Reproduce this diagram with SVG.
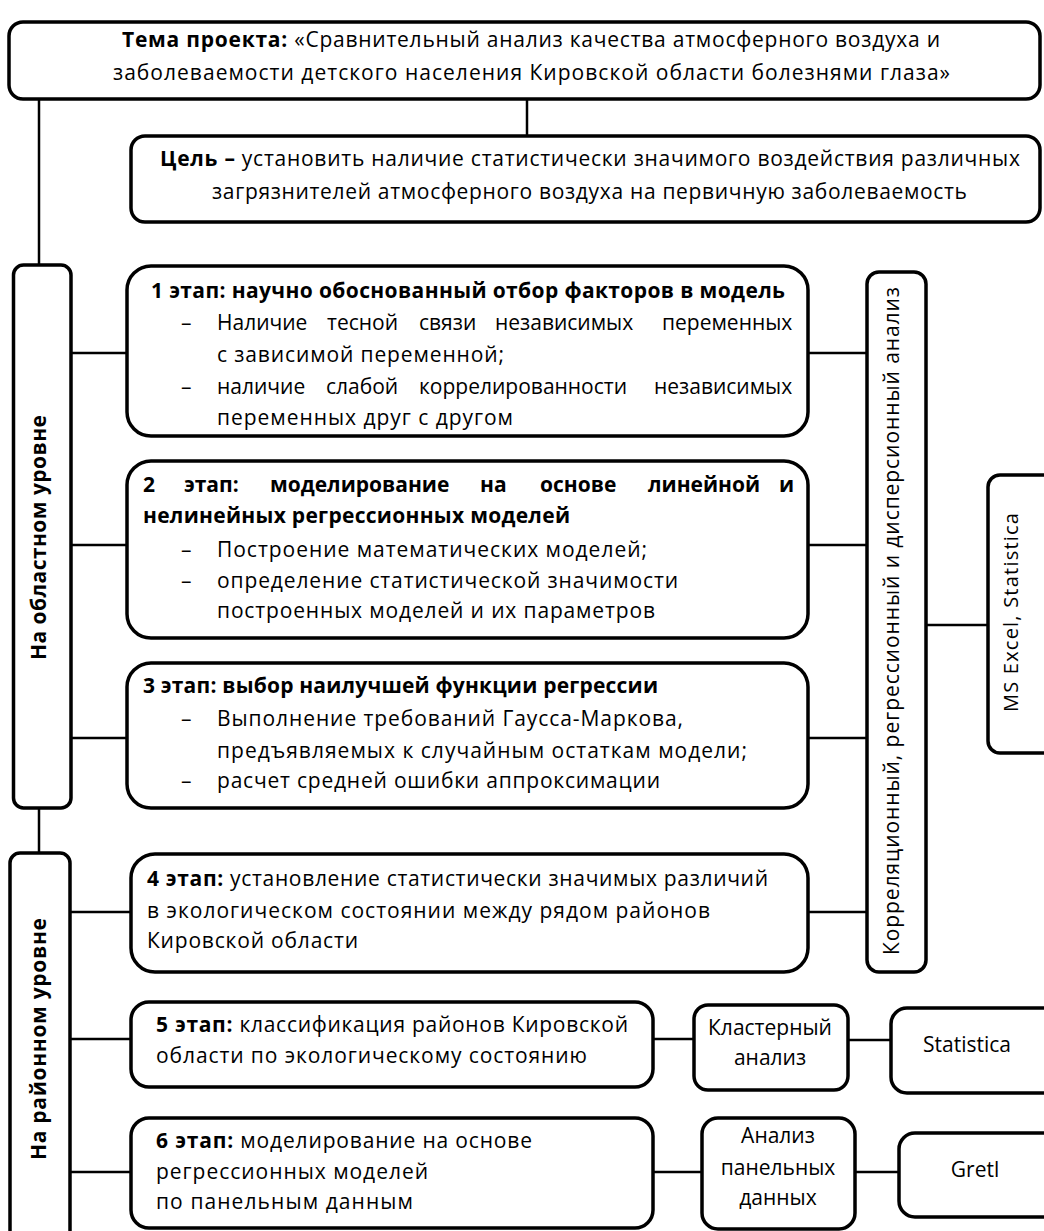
<svg xmlns="http://www.w3.org/2000/svg" width="1044" height="1231" viewBox="0 0 1044 1231">
<style>
.box{fill:#fff;stroke:#000;stroke-width:3.5}
.ln{stroke:#000;stroke-width:2.5;fill:none}
text{font-family:"Open Sans","DejaVu Sans",sans-serif;fill:#000}
.h{font-size:21px}
.t{font-size:21px}
.s{font-size:21px;text-anchor:middle}
.b{font-weight:bold}
</style>
<rect width="1044" height="1231" fill="#fff"/>
<g id="connectors">
<line class="ln" x1="527" y1="100" x2="527" y2="136"/>
<line class="ln" x1="39" y1="100" x2="39" y2="265"/>
<line class="ln" x1="71" y1="353" x2="127" y2="353"/>
<line class="ln" x1="71" y1="545" x2="127" y2="545"/>
<line class="ln" x1="71" y1="738" x2="127" y2="738"/>
<line class="ln" x1="39" y1="808" x2="39" y2="853"/>
<line class="ln" x1="70" y1="912" x2="131" y2="912"/>
<line class="ln" x1="70" y1="1039" x2="131" y2="1039"/>
<line class="ln" x1="70" y1="1172" x2="131" y2="1172"/>
<line class="ln" x1="808" y1="353" x2="867" y2="353"/>
<line class="ln" x1="808" y1="545" x2="867" y2="545"/>
<line class="ln" x1="808" y1="738" x2="867" y2="738"/>
<line class="ln" x1="808" y1="912" x2="867" y2="912"/>
<line class="ln" x1="926" y1="625" x2="988" y2="625"/>
<line class="ln" x1="653" y1="1039" x2="694" y2="1039"/>
<line class="ln" x1="848" y1="1040" x2="891" y2="1040"/>
<line class="ln" x1="653" y1="1172" x2="702" y2="1172"/>
<line class="ln" x1="855" y1="1172" x2="899" y2="1172"/>
</g>
<g id="topic">
<rect class="box" x="9" y="22" width="1031" height="77" rx="14"/>
<text class="h" x="122" y="47" textLength="818"><tspan class="b">Тема проекта:</tspan> «Сравнительный анализ качества атмосферного воздуха и</text>
<text class="h" x="113" y="80" textLength="837">заболеваемости детского населения Кировской области болезнями глаза»</text>
</g>
<g id="goal">
<rect class="box" x="131" y="136" width="909" height="86" rx="14"/>
<text class="h" x="160" y="166" textLength="860"><tspan class="b">Цель –</tspan> установить наличие статистически значимого воздействия различных</text>
<text class="h" x="212" y="199" textLength="755">загрязнителей атмосферного воздуха на первичную заболеваемость</text>
</g>
<g id="regional-level">
<rect class="box" x="13.5" y="265" width="57.5" height="543" rx="10"/>
<text class="t b" transform="translate(46,660) rotate(-90)" textLength="245">На областном уровне</text>
</g>
<g id="district-level">
<rect class="box" x="10" y="853" width="60" height="400" rx="10"/>
<text class="t b" transform="translate(46,1160) rotate(-90)" textLength="242">На районном уровне</text>
</g>
<g id="stage1">
<rect class="box" x="127" y="266" width="681" height="170" rx="24"/>
<text class="t b" x="151" y="298" textLength="634">1 этап: научно обоснованный отбор факторов в модель</text>
<text class="t" x="181" y="330">–</text>
<text class="t" y="330"><tspan x="217">Наличие</tspan><tspan x="327">тесной</tspan><tspan x="419">связи</tspan><tspan x="495">независимых</tspan><tspan x="662">переменных</tspan></text>
<text class="t" x="217" y="362" textLength="287">с зависимой переменной;</text>
<text class="t" x="181" y="394">–</text>
<text class="t" y="394"><tspan x="217">наличие</tspan><tspan x="326">слабой</tspan><tspan x="419">коррелированности</tspan><tspan x="654">независимых</tspan></text>
<text class="t" x="217" y="425" textLength="296">переменных друг с другом</text>
</g>
<g id="stage2">
<rect class="box" x="127" y="461" width="681" height="177" rx="24"/>
<text class="t b" y="492"><tspan x="143">2</tspan><tspan x="184">этап:</tspan><tspan x="270">моделирование</tspan><tspan x="480">на</tspan><tspan x="540">основе</tspan><tspan x="648">линейной</tspan><tspan x="779">и</tspan></text>
<text class="t b" x="143" y="523" textLength="427">нелинейных регрессионных моделей</text>
<text class="t" x="181" y="557">–</text>
<text class="t" x="217" y="557" textLength="430">Построение математических моделей;</text>
<text class="t" x="181" y="588">–</text>
<text class="t" x="217" y="588" textLength="461">определение статистической значимости</text>
<text class="t" x="217" y="618" textLength="438">построенных моделей и их параметров</text>
</g>
<g id="stage3">
<rect class="box" x="127" y="663" width="681" height="145" rx="24"/>
<text class="t b" x="143" y="693" textLength="515">3 этап: выбор наилучшей функции регрессии</text>
<text class="t" x="181" y="726">–</text>
<text class="t" x="217" y="726" textLength="466">Выполнение требований Гаусса-Маркова,</text>
<text class="t" x="217" y="758" textLength="530">предъявляемых к случайным остаткам модели;</text>
<text class="t" x="181" y="788">–</text>
<text class="t" x="217" y="788" textLength="443">расчет средней ошибки аппроксимации</text>
</g>
<g id="stage4">
<rect class="box" x="131" y="854" width="677" height="118" rx="24"/>
<text class="t" x="147" y="886" textLength="621"><tspan class="b">4 этап:</tspan> установление статистически значимых различий</text>
<text class="t" x="147" y="918" textLength="563">в экологическом состоянии между рядом районов</text>
<text class="t" x="147" y="948" textLength="211">Кировской области</text>
</g>
<g id="analysis-methods">
<rect class="box" x="867" y="272" width="59" height="700" rx="12"/>
<text class="t" transform="translate(899,955) rotate(-90)" textLength="668">Корреляционный, регрессионный и дисперсионный анализ</text>
</g>
<g id="ms-excel">
<rect class="box" x="988" y="475" width="70" height="278" rx="12"/>
<text class="t" style="font-size:20px" transform="translate(1018,712) rotate(-90)" textLength="199">MS Excel, Statistica</text>
</g>
<g id="stage5">
<rect class="box" x="131" y="1002" width="522" height="85" rx="18"/>
<text class="t" x="156" y="1032" textLength="472"><tspan class="b">5 этап:</tspan> классификация районов Кировской</text>
<text class="t" x="156" y="1063" textLength="431">области по экологическому состоянию</text>
</g>
<g id="cluster">
<rect class="box" x="694" y="1005" width="154" height="85" rx="14"/>
<text class="s" x="770" y="1035">Кластерный</text>
<text class="s" x="770" y="1065">анализ</text>
</g>
<g id="statistica">
<rect class="box" x="891" y="1008" width="170" height="85" rx="16"/>
<text class="s" x="967" y="1052">Statistica</text>
</g>
<g id="stage6">
<rect class="box" x="131" y="1118" width="522" height="110" rx="18"/>
<text class="t" x="156" y="1148" textLength="376"><tspan class="b">6 этап:</tspan> моделирование на основе</text>
<text class="t" x="156" y="1179" textLength="272">регрессионных моделей</text>
<text class="t" x="156" y="1209" textLength="257">по панельным данным</text>
</g>
<g id="panel">
<rect class="box" x="702" y="1118" width="153" height="111" rx="16"/>
<text class="s" x="778" y="1143">Анализ</text>
<text class="s" x="778" y="1175">панельных</text>
<text class="s" x="778" y="1205">данных</text>
</g>
<g id="gretl">
<rect class="box" x="899" y="1133" width="160" height="84" rx="16"/>
<text class="s" x="975" y="1177">Gretl</text>
</g>
</svg>
